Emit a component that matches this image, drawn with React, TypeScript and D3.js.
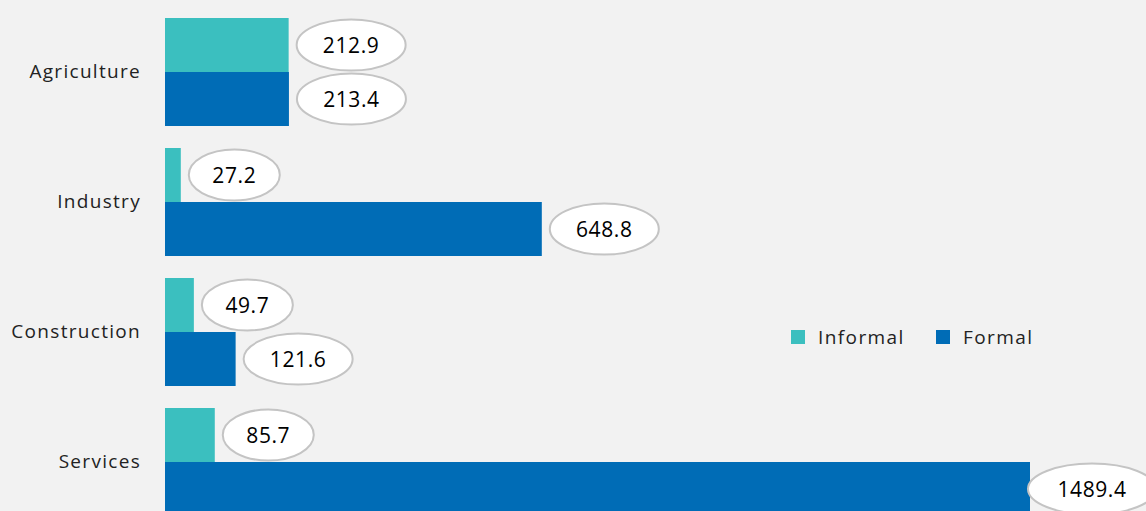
import React from "react";
import * as d3 from "d3";

const categories = ["Agriculture", "Industry", "Construction", "Services"];
const seriesNames = ["Informal", "Formal"];
const informalValues = [212.9, 27.2, 49.7, 85.7];
const formalValues = [213.4, 648.8, 121.6, 1489.4];
const seriesColors = ["#3bbfbf", "#006cb6"];

const W = 1146;
const H = 511;

export default function App() {
  const x = d3.scaleLinear().domain([0, 1489.4]).range([165, 1030]);
  const y = d3
    .scaleBand<string>()
    .domain(categories)
    .range([18, 516])
    .paddingInner(22 / 130)
    .paddingOuter(0);
  const ySub = d3
    .scaleBand<string>()
    .domain(seriesNames)
    .range([0, y.bandwidth()])
    .padding(0);

  const rows = categories.flatMap((c, i) => [
    { cat: c, series: "Informal", value: informalValues[i], color: seriesColors[0] },
    { cat: c, series: "Formal", value: formalValues[i], color: seriesColors[1] },
  ]);

  const font = "'Open Sans', sans-serif";

  return (
    <svg
      width={W}
      height={H}
      style={{ position: "fixed", left: 0, top: 0, background: "#f2f2f2" }}
    >
      <rect x={0} y={0} width={W} height={H} fill="#f2f2f2" />
      {rows.map((r, i) => {
        const y0 = (y(r.cat) ?? 0) + (ySub(r.series) ?? 0);
        const h = ySub.bandwidth();
        const x1 = x(r.value);
        const label = r.value.toFixed(1);
        const ew = label.length <= 4 ? 91 : label.length === 5 ? 109 : 128;
        const cx = Math.min(x1 + 8 + ew / 2, W - 54);
        const cy = y0 + h / 2;
        return (
          <g key={i}>
            <rect x={x(0)} y={y0} width={x1 - x(0)} height={h} fill={r.color} />
            <ellipse
              cx={cx}
              cy={cy}
              rx={ew / 2}
              ry={25.5}
              fill="#ffffff"
              stroke="#c4c4c4"
              strokeWidth={2}
            />
            <text
              x={cx}
              y={cy}
              textAnchor="middle"
              dominantBaseline="central"
              fontFamily={font}
              fontSize={21}
              letterSpacing={0.6}
              fill="#000"
            >
              {label}
            </text>
          </g>
        );
      })}
      {categories.map((c) => (
        <text
          key={c}
          x={141}
          y={(y(c) ?? 0) + y.bandwidth() / 2 - 1}
          textAnchor="end"
          dominantBaseline="central"
          fontFamily={font}
          fontSize={19}
          letterSpacing={1.3}
          fill="#222"
        >
          {c}
        </text>
      ))}
      {seriesNames.map((s, i) => {
        const lx = i === 0 ? 791 : 936;
        return (
          <g key={s}>
            <rect x={lx} y={330} width={14} height={14} fill={seriesColors[i]} />
            <text
              x={lx + 27}
              y={337}
              dominantBaseline="central"
              fontFamily={font}
              fontSize={19}
              letterSpacing={1.4}
              fill="#222"
            >
              {s}
            </text>
          </g>
        );
      })}
    </svg>
  );
}
